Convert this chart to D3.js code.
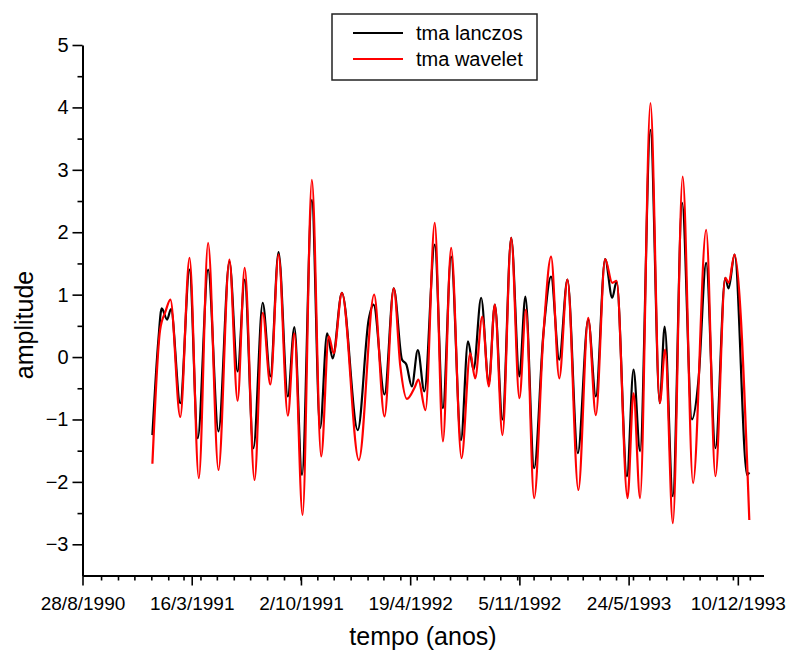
<!DOCTYPE html>
<html>

<head>
  <meta charset="UTF-8" />
  <title>tma lanczos x wavelet</title>
  <style>
    body {
      margin: 0;
      background: white;
    }

    svg text {
      font-family: Arial, "Liberation Sans", sans-serif;
      fill: #000;
    }
  </style>
  <script src="https://d3js.org/d3.v7.min.js"></script>
</head>

<body>
  <div id="chart"></div>
  <script>
    // dias contados a partir de 28/8/1990
    let lanczosDia = [128, 139, 145, 155, 162, 179, 196, 211, 230, 249, 269, 284, 297, 313, 330, 344, 359, 376, 388, 402,
      420, 435, 448, 458, 475, 504, 524, 533, 553, 570, 585, 593, 603, 614, 626, 645, 660, 675, 693, 706, 716, 730, 744,
      755, 769, 785, 800, 811, 827, 844, 858, 873, 888, 907, 926, 940, 957, 970, 978, 997, 1009, 1021, 1040, 1057, 1066,
      1081, 1098, 1116, 1128, 1142, 1159, 1177, 1183, 1194, 1217, 1221];
    let lanczosVal = [-1.25, 0.28, 0.78, 0.6, 0.77, -0.74, 1.4, -1.3, 1.4, -1.19, 1.53, -0.23, 1.24, -1.46, 0.87, -0.31,
      1.68, -0.63, 0.48, -1.89, 2.52, -1.14, 0.38, -0.02, 1.03, -1.17, 0.6, 0.84, -0.6, 1.1, -0.04, -0.12, -0.47, 0.11,
      -0.55, 1.8, -0.82, 1.61, -1.33, 0.25, -0.2, 0.95, -0.42, 0.84, -1.0, 1.91, -0.31, 0.97, -1.78, 0.38, 1.29, -0.04,
      1.24, -1.54, 0.6, -0.63, 1.57, 0.95, 1.21, -1.91, -0.2, -1.51, 3.64, -0.74, 0.49, -2.23, 2.47, -1.0, -0.36, 1.51,
      -1.46, 1.27, 1.1, 1.64, -1.89, -1.85];

    let waveletDia = [128, 142, 152, 161, 179, 196, 213, 230, 249, 269, 284, 297, 315, 330, 344, 359, 376, 388, 403, 420,
      437, 451, 460, 475, 506, 534, 553, 570, 582, 594, 609, 615, 628, 645, 660, 675, 694, 710, 719, 732, 744, 755, 769,
      785, 800, 812, 827, 844, 858, 873, 888, 908, 926, 940, 957, 970, 978, 998, 1009, 1021, 1040, 1057, 1067, 1081, 1099,
      1118, 1142, 1159, 1177, 1183, 1194, 1221];
    let waveletVal = [-1.71, 0.43, 0.73, 0.92, -0.96, 1.59, -1.94, 1.83, -1.81, 1.56, -0.7, 1.43, -1.97, 0.71, -0.44, 1.64,
      -0.94, 0.38, -2.53, 2.84, -1.59, 0.33, 0.06, 1.03, -1.65, 1.0, -0.95, 1.1, -0.15, -0.67, -0.47, -0.36, -0.85, 2.15,
      -1.35, 1.75, -1.62, 0.06, -0.34, 0.65, -0.47, 0.84, -1.25, 1.91, -0.66, 0.76, -2.26, 0.36, 1.61, -0.34, 1.24, -2.13,
      0.63, -0.93, 1.57, 1.19, 1.22, -2.26, -0.58, -2.26, 4.07, -0.74, 0.12, -2.66, 2.89, -2.02, 2.04, -1.91, 1.27, 1.19,
      1.64, -2.61];

    let yTicks = [-3, -2, -1, 0, 1, 2, 3, 4, 5];
    let xTickDias = [0, 200, 400, 600, 800, 1000, 1200];
    let series = [
      { nome: "tma lanczos", cor: "#000000", dia: lanczosDia, val: lanczosVal },
      { nome: "tma wavelet", cor: "#ff0000", dia: waveletDia, val: waveletVal }
    ];

    const origem = Date.UTC(1990, 7, 28);
    const toDate = d => new Date(origem + d * 864e5);

    let width = 786, height = 650;
    let svg = d3.select("#chart").append("svg")
      .attr("width", width)
      .attr("height", height);

    let xScale = d3.scaleUtc()
      .domain([toDate(0), toDate(1247)])
      .range([82.5, 763.5]);

    let yScale = d3.scaleLinear()
      .domain([-3.5, 5])
      .range([575.5, 45]);

    /* eixo x: rotulos a cada 200 dias, marcas menores mensais */
    let fmt = d3.utcFormat("%-d/%-m/%Y");
    let xAxis = svg.append("g")
      .attr("transform", "translate(0,575.5)")
      .call(d3.axisBottom(xScale)
        .tickValues(xTickDias.map(toDate))
        .tickFormat(fmt)
        .tickSize(10)
        .tickSizeOuter(0)
        .tickPadding(11));

    svg.append("g")
      .attr("transform", "translate(0,575.5)")
      .call(d3.axisBottom(xScale)
        .tickValues(d3.utcMonth.range(toDate(10), toDate(1247)))
        .tickFormat("")
        .tickSize(5)
        .tickSizeOuter(0))
      .select(".domain").remove();

    let yAxis = svg.append("g")
      .attr("transform", "translate(82.5,0)")
      .call(d3.axisLeft(yScale)
        .tickValues(yTicks)
        .tickSize(10)
        .tickSizeOuter(0)
        .tickPadding(4));

    svg.append("g")
      .attr("transform", "translate(82.5,0)")
      .call(d3.axisLeft(yScale)
        .tickValues(yTicks.filter(v => v < 5).map(v => v + 0.5))
        .tickFormat("")
        .tickSize(5)
        .tickSizeOuter(0))
      .select(".domain").remove();

    svg.selectAll(".domain").attr("stroke-width", 2);
    svg.selectAll(".tick line").attr("stroke-width", 1.6);
    xAxis.selectAll("text").style("font-size", "19px");
    yAxis.selectAll("text").style("font-size", "20px");

    /* curvas */
    let line = d3.line()
      .x(p => xScale(toDate(p[0])))
      .y(p => yScale(p[1]))
      .curve(d3.curveMonotoneX);

    series.forEach(s => {
      svg.append("path")
        .datum(s.dia.map((d, i) => [d, s.val[i]]))
        .attr("fill", "none")
        .attr("stroke", s.cor)
        .attr("stroke-width", 2.2)
        .attr("stroke-linejoin", "round")
        .attr("d", line);
    });

    /* titulos */
    svg.append("text")
      .attr("transform", "translate(33,325) rotate(-90)")
      .attr("text-anchor", "middle")
      .style("font-size", "25px")
      .text("amplitude");

    svg.append("text")
      .attr("x", 423)
      .attr("y", 645)
      .attr("text-anchor", "middle")
      .style("font-size", "25px")
      .text("tempo (anos)");

    /* legenda */
    let legend = svg.append("g").attr("transform", "translate(332,14)");
    legend.append("rect")
      .attr("width", 205)
      .attr("height", 66)
      .attr("fill", "white")
      .attr("stroke", "#222")
      .attr("stroke-width", 1.5);

    series.forEach((s, i) => {
      legend.append("line")
        .attr("x1", 21).attr("x2", 71)
        .attr("y1", 19 + i * 26).attr("y2", 19 + i * 26)
        .attr("stroke", s.cor)
        .attr("stroke-width", 2);
      legend.append("text")
        .attr("x", 84)
        .attr("y", 26 + i * 26)
        .style("font-size", "20px")
        .text(s.nome);
    });
  </script>
</body>

</html>
